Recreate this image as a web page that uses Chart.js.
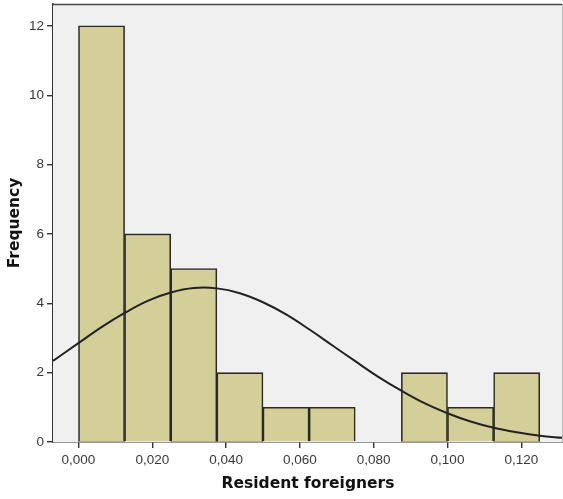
<!DOCTYPE html>
<html>
<head>
<meta charset="utf-8">
<script src="https://cdn.jsdelivr.net/npm/chart.js@4/dist/chart.umd.min.js"></script>
<style>
  body { margin: 0; background: #fff; }
  #histo { display: block; }
</style>
</head>
<body>
<canvas id="histo" width="563" height="499"></canvas>
<script>
'use strict'

// histogram bins (width 0,0125), given by their centres
let binCenters = [0.00625, 0.01875, 0.03125, 0.04375, 0.05625, 0.06875, 0.08125, 0.09375, 0.10625, 0.11875];
let binCounts = [12, 6, 5, 2, 1, 1, 0, 2, 1, 2];

// normal curve, read at regular points across the axis
let curveX = [-0.0069, 0, 0.00625, 0.0125, 0.01875, 0.025, 0.03125, 0.0375, 0.04375, 0.05, 0.05625, 0.0625,
  0.06875, 0.075, 0.08125, 0.0875, 0.09375, 0.1, 0.10625, 0.1125, 0.11875, 0.125, 0.1313];
let curveY = [2.34, 2.85, 3.31, 3.72, 4.07, 4.31, 4.44, 4.43, 4.29, 4.03, 3.68, 3.25,
  2.79, 2.33, 1.88, 1.48, 1.12, 0.83, 0.59, 0.41, 0.28, 0.18, 0.12];

let xTicks = [0, 0.02, 0.04, 0.06, 0.08, 0.10, 0.12];
let yTicks = [0, 2, 4, 6, 8, 10, 12];

let xMin = -0.0069;
let xMax = 0.1313;
let yMax = 12.63;

let barData = [];
for (let i = 0; i < binCenters.length; i++) {
  barData.push({ x: binCenters[i], y: binCounts[i] });
}

let curveData = [];
for (let i = 0; i < curveX.length; i++) {
  curveData.push({ x: curveX[i], y: curveY[i] });
}

// grey plot background plus the top/right frame
let plotFrame = {
  id: 'plotFrame',
  beforeDatasetsDraw(chart) {
    let a = chart.chartArea;
    let ctx = chart.ctx;
    ctx.save();
    ctx.fillStyle = '#f0f0f0';
    ctx.fillRect(a.left, a.top, a.right - a.left, a.bottom - a.top);
    ctx.restore();
  },
  afterDraw(chart) {
    let a = chart.chartArea;
    let ctx = chart.ctx;
    ctx.save();
    ctx.strokeStyle = '#444';
    ctx.lineWidth = 1.5;
    ctx.beginPath();
    ctx.moveTo(a.left, a.top + 0.5);
    ctx.lineTo(a.right, a.top + 0.5);
    ctx.stroke();
    ctx.strokeStyle = '#bbb';
    ctx.lineWidth = 1;
    ctx.beginPath();
    ctx.moveTo(a.right - 0.5, a.top);
    ctx.lineTo(a.right - 0.5, a.bottom);
    ctx.stroke();
    ctx.restore();
  }
};

let tickFont = { family: "'Liberation Sans', Arial, sans-serif", size: 13.5 };
let titleFont = { family: "'DejaVu Sans', sans-serif", size: 15.5, weight: 'bold' };

let ctx = document.getElementById('histo').getContext('2d');
let chart = new Chart(ctx, {
  type: 'bar',
  data: {
    datasets: [{
      type: 'line',
      data: curveData,
      borderColor: '#222',
      borderWidth: 2,
      pointRadius: 0,
      tension: 0.4,
      fill: false,
      order: 0
    },
    {
      data: barData,
      backgroundColor: '#d4cf98',
      borderColor: '#2a2a24',
      borderWidth: 1.6,
      barPercentage: 1,
      categoryPercentage: 1,
      grouped: false,
      order: 1
    }]
  },
  options: {
    responsive: false,
    animation: false,
    layout: { padding: { top: 4, right: 0, left: 0, bottom: 0 } },
    plugins: {
      legend: { display: false },
      tooltip: { enabled: false }
    },
    scales: {
      x: {
        type: 'linear',
        offset: false,
        min: xMin,
        max: xMax,
        afterBuildTicks: s => { s.ticks = xTicks.map(v => ({ value: v })); },
        afterFit: s => { s.height = 57; s.paddingLeft = 0; s.paddingRight = 0; },
        grid: { offset: false, drawOnChartArea: false, drawTicks: true, tickLength: 6, color: '#333', lineWidth: 1.4 },
        border: { display: true, color: '#333', width: 1.6 },
        ticks: {
          color: '#383838',
          padding: 4,
          maxRotation: 0,
          font: tickFont,
          callback: v => v.toFixed(3).replace('.', ',')
        },
        title: {
          display: true,
          text: 'Resident foreigners',
          color: '#111',
          padding: { top: 0, bottom: 6 },
          font: titleFont
        }
      },
      y: {
        min: 0,
        max: yMax,
        afterBuildTicks: s => { s.ticks = yTicks.map(v => ({ value: v })); },
        afterFit: s => { s.width = 53; s.paddingTop = 0; s.paddingBottom = 0; },
        grid: { drawOnChartArea: false, drawTicks: true, tickLength: 6, color: '#333', lineWidth: 1.4 },
        border: { display: true, color: '#333', width: 1.6 },
        ticks: {
          color: '#383838',
          padding: 3,
          font: tickFont
        },
        title: {
          display: true,
          text: 'Frequency',
          color: '#111',
          padding: { top: 6, bottom: 0 },
          font: titleFont
        }
      }
    }
  },
  plugins: [plotFrame]
});
</script>
</body>
</html>
